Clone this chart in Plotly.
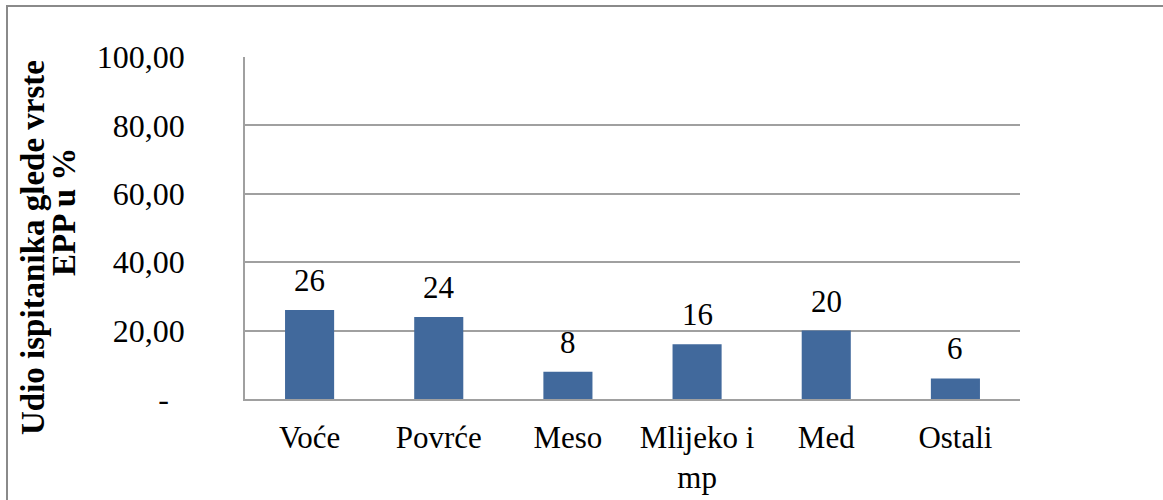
import plotly.graph_objects as go

categories = ["Voće", "Povrće", "Meso", "Mlijeko i<br>mp", "Med", "Ostali"]
values = [26, 24, 8, 16, 20, 6]
y_tickvals = [0, 20, 40, 60, 80, 100]
y_ticktext = ["-\u00a0\u00a0", "20,00", "40,00", "60,00", "80,00", "100,00"]
y_title_1 = "Udio ispitanika glede vrste"
y_title_2 = "EPP u %"

W, H = 1163, 500
L, R, T, B = 245, 1163 - 1020, 57, 500 - 399
pw, ph = W - L - R, H - T - B

def px_x(p):
    return (p - L) / pw

def px_y(p):
    return (H - B - p) / ph

serif = "Liberation Serif, Times New Roman, serif"

fig = go.Figure()
fig.add_trace(go.Bar(
    x=categories, y=values,
    marker=dict(color="#41699c", line=dict(width=0)),
    width=0.38,
    hoverinfo="skip",
))

annotations = []
for c, v in zip(categories, values):
    annotations.append(dict(
        x=c, y=v, xref="x", yref="y", text=str(v), showarrow=False,
        yanchor="bottom", yshift=10, font=dict(family=serif, size=31, color="black"),
    ))

annotations.append(dict(
    x=px_x(33), y=px_y(248), xref="paper", yref="paper", text=y_title_1,
    showarrow=False, textangle=-90, xanchor="center", yanchor="middle",
    font=dict(family=serif, size=33, color="black", weight="bold"),
))
annotations.append(dict(
    x=px_x(64), y=px_y(212), xref="paper", yref="paper", text=y_title_2,
    showarrow=False, textangle=-90, xanchor="center", yanchor="middle",
    font=dict(family=serif, size=33, color="black", weight="bold"),
))

shapes = [
    dict(type="rect", xref="paper", yref="paper",
         x0=px_x(7), x1=px_x(1250), y0=px_y(560), y1=px_y(6),
         line=dict(color="#8a8a8a", width=2), fillcolor="rgba(0,0,0,0)", layer="below"),
]

fig.update_layout(
    width=W, height=H,
    margin=dict(l=L, r=R, t=T, b=B, pad=0, autoexpand=False),
    paper_bgcolor="white", plot_bgcolor="white",
    showlegend=False,
    annotations=annotations,
    shapes=shapes,
    xaxis=dict(
        showgrid=False, showline=True, linecolor="#a0a0a0", linewidth=1.5,
        tickfont=dict(family=serif, size=31, color="black"),
        ticks="", ticklabelstandoff=10, fixedrange=True, automargin=False,
    ),
    yaxis=dict(
        range=[0, 100], tickvals=y_tickvals, ticktext=y_ticktext,
        showgrid=True, gridcolor="#a0a0a0", gridwidth=1.5,
        showline=True, linecolor="#a0a0a0", linewidth=1.5,
        zeroline=False, ticks="",
        tickfont=dict(family=serif, size=32, color="black"),
        ticklabelstandoff=52, fixedrange=True, automargin=False,
    ),
)

fig.write_html(
    "out.html",
    config={"displayModeBar": False, "responsive": False},
    post_script="document.body.style.margin='0px';document.body.style.overflow='hidden';",
)
